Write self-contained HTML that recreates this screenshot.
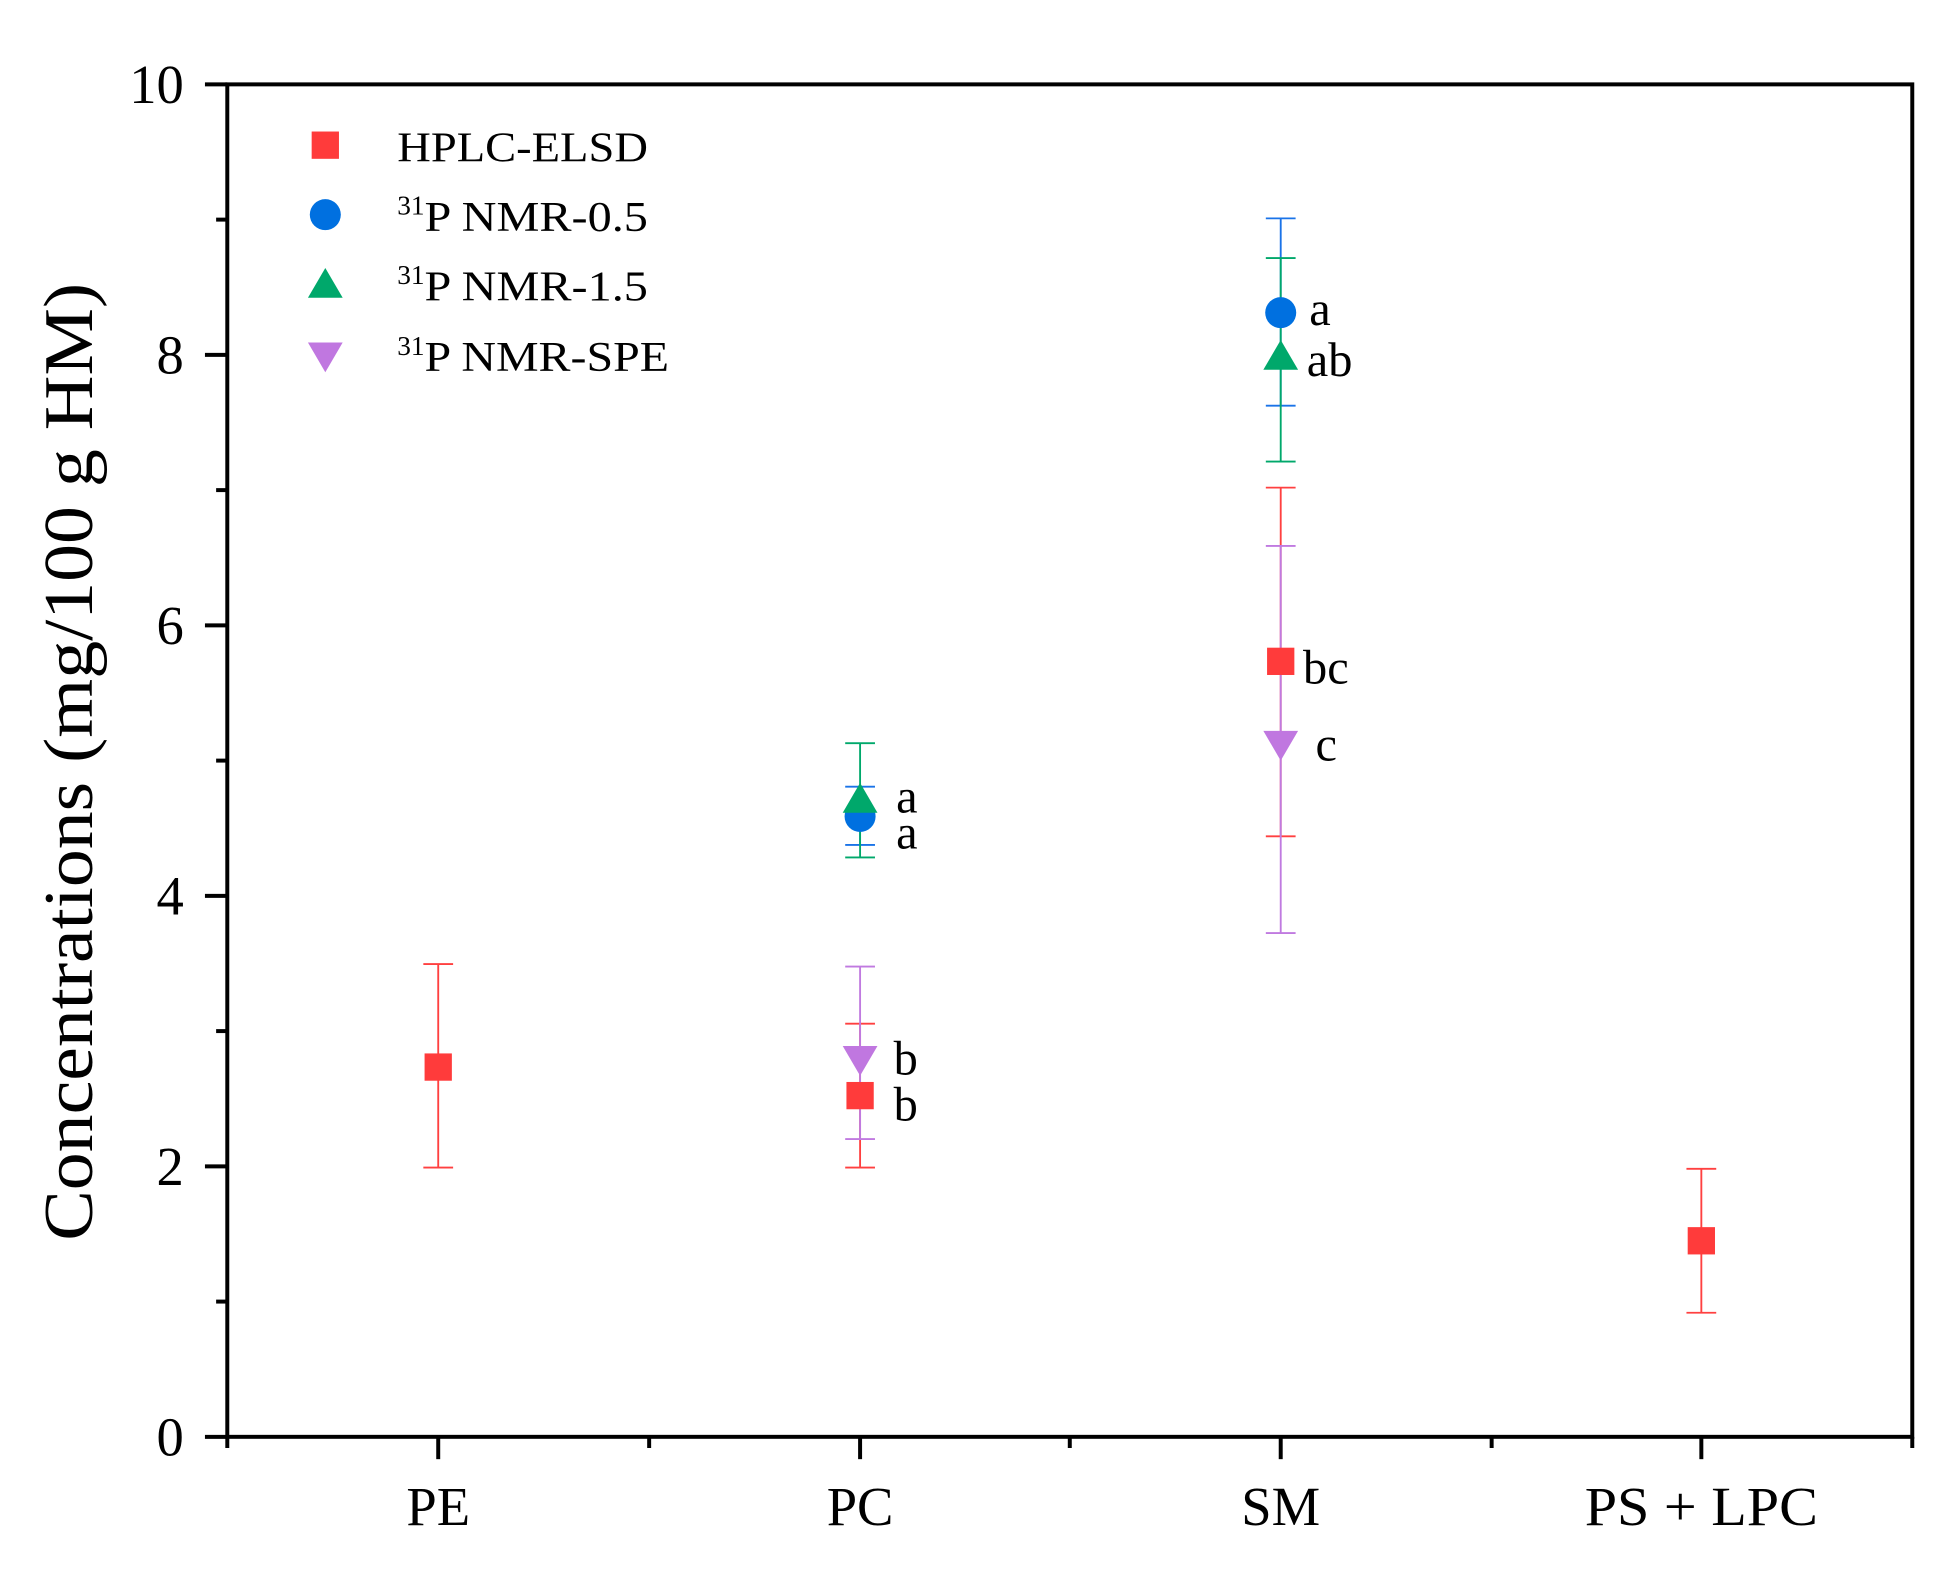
<!DOCTYPE html>
<html><head><style>
html,body{margin:0;padding:0;background:#fff;}
svg{display:block;}
text{font-family:"Liberation Serif",serif;fill:#000;}
</style></head><body>
<svg width="1946" height="1582" viewBox="0 0 1568 1275" xmlns="http://www.w3.org/2000/svg">
<rect width="1568" height="1275" fill="#fff"/>
<rect x="183" y="68" width="1358" height="1090" fill="none" stroke="#000" stroke-width="3.2"/>
<g stroke="#000" stroke-width="3.2">
<line x1="165" y1="1158" x2="183" y2="1158"/><line x1="165" y1="940" x2="183" y2="940"/>
<line x1="165" y1="722" x2="183" y2="722"/><line x1="165" y1="504" x2="183" y2="504"/>
<line x1="165" y1="286" x2="183" y2="286"/><line x1="165" y1="68" x2="183" y2="68"/>
<line x1="174" y1="1049" x2="183" y2="1049"/><line x1="174" y1="831" x2="183" y2="831"/>
<line x1="174" y1="613" x2="183" y2="613"/><line x1="174" y1="395" x2="183" y2="395"/>
<line x1="174" y1="177" x2="183" y2="177"/>
<line x1="353" y1="1158" x2="353" y2="1176"/><line x1="693" y1="1158" x2="693" y2="1176"/>
<line x1="1032" y1="1158" x2="1032" y2="1176"/><line x1="1371" y1="1158" x2="1371" y2="1176"/>
<line x1="183" y1="1158" x2="183" y2="1167"/><line x1="523" y1="1158" x2="523" y2="1167"/>
<line x1="862" y1="1158" x2="862" y2="1167"/><line x1="1202" y1="1158" x2="1202" y2="1167"/>
<line x1="1541" y1="1158" x2="1541" y2="1167"/>
</g>
<g font-size="44" text-anchor="end">
<text x="148" y="1173">0</text><text x="148" y="955">2</text><text x="148" y="737">4</text>
<text x="148" y="519">6</text><text x="148" y="301">8</text><text x="148" y="83">10</text>
</g>
<g font-size="44" text-anchor="middle">
<text x="353" y="1229">PE</text><text x="693" y="1229">PC</text>
<text x="1032" y="1229">SM</text><text x="1371" y="1229" textLength="188" lengthAdjust="spacingAndGlyphs">PS + LPC</text>
</g>
<text transform="translate(74,614) rotate(-90)" font-size="56" text-anchor="middle" textLength="772" lengthAdjust="spacingAndGlyphs">Concentrations (mg/100 g HM)</text>

<g stroke-width="1.5" fill="none">
<g stroke="#ff4040">
<path d="M353 941V777M341 941h24M341 777h24"/>
<path d="M693 941V825M681 941h24M681 825h24"/>
<path d="M1032 674V393M1020 674h24M1020 393h24"/>
<path d="M1371 1058V942M1359 1058h24M1359 942h24"/>
</g>
<g stroke="#c07ae0">
<path d="M693 918V779M681 918h24M681 779h24"/>
<path d="M1032 752V440M1020 752h24M1020 440h24"/>
</g>
<g stroke="#1a73e8">
<path d="M693 681V634M681 681h24M681 634h24"/>
<path d="M1032 327V176M1020 327h24M1020 176h24"/>
</g>
<g stroke="#00a86b">
<path d="M693 691V599M681 691h24M681 599h24"/>
<path d="M1032 372V208M1020 372h24M1020 208h24"/>
</g>
</g>
<g fill="#ff3b3b">
<rect x="342" y="849" width="22" height="22"/>
<rect x="682" y="872" width="22" height="22"/>
<rect x="1021" y="522" width="22" height="22"/>
<rect x="1360" y="989" width="22" height="22"/>
</g>
<g fill="#c077e0">
<polygon points="679,843 707,843 693,867"/>
<polygon points="1018,589 1046,589 1032,613"/>
</g>
<g fill="#0070e0">
<circle cx="693" cy="658" r="12.5"/>
<circle cx="1032" cy="252" r="12.5"/>
</g>
<g fill="#00a86b">
<polygon points="679,655 707,655 693,631"/>
<polygon points="1018,298 1046,298 1032,274"/>
</g>
<g font-size="39">
<text x="1055" y="262">a</text><text x="1053" y="303">ab</text>
<text x="1050" y="551">bc</text><text x="1060" y="613">c</text>
<text x="722" y="655">a</text><text x="722" y="684">a</text>
<text x="720" y="866">b</text><text x="720" y="903">b</text>
</g>
<rect x="251" y="106" width="22" height="22" fill="#ff3b3b"/>
<circle cx="262" cy="173" r="12.5" fill="#0070e0"/>
<polygon points="248,240 276,240 262,216" fill="#00a86b"/>
<polygon points="248,276 276,276 262,300" fill="#c077e0"/>
<g font-size="34">
<text x="320" y="130" textLength="202" lengthAdjust="spacingAndGlyphs">HPLC-ELSD</text>
<text x="320" y="186"><tspan font-size="22" dy="-13">31</tspan><tspan dy="13" textLength="180" lengthAdjust="spacingAndGlyphs">P NMR-0.5</tspan></text>
<text x="320" y="242"><tspan font-size="22" dy="-13">31</tspan><tspan dy="13" textLength="180" lengthAdjust="spacingAndGlyphs">P NMR-1.5</tspan></text>
<text x="320" y="299"><tspan font-size="22" dy="-13">31</tspan><tspan dy="13" textLength="197" lengthAdjust="spacingAndGlyphs">P NMR-SPE</tspan></text>
</g>
</svg>
</body></html>
